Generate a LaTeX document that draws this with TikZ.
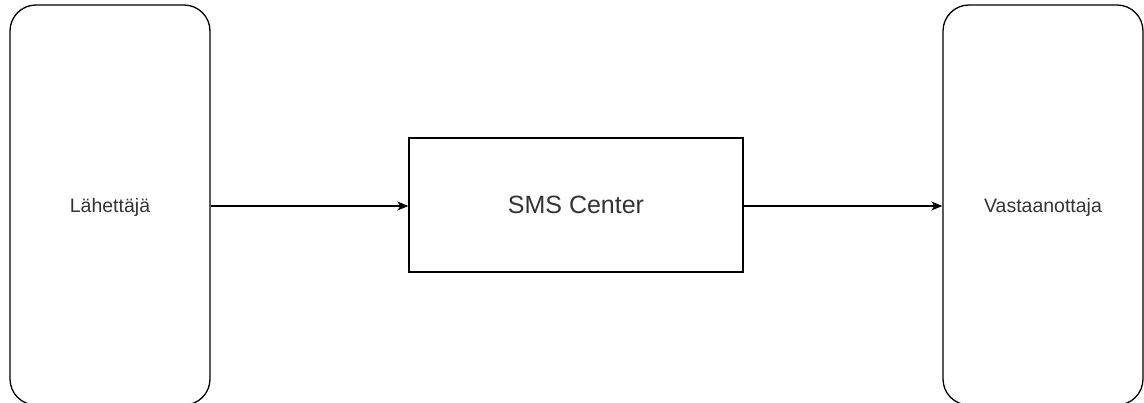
\documentclass[tikz,border=0pt]{standalone}
\usepackage{fontspec}
\setmainfont{Liberation Sans}
\usetikzlibrary{arrows.meta}
\definecolor{txt}{HTML}{333333}
\tikzset{
  side/.style={draw=black, line width=1.3pt, rounded corners=26pt, minimum width=200pt, minimum height=400pt, inner sep=0pt, text=txt, font=\fontsize{19.5}{23}\selectfont},
  center/.style={draw=black, line width=1.3pt, minimum width=334pt, minimum height=134pt, inner sep=0pt, text=txt, font=\fontsize{25}{30}\selectfont},
  conn/.style={line width=1.3pt, -{Stealth[length=11pt,width=9pt,inset=3pt]}}
}
\begin{document}
\begin{tikzpicture}[x=1pt,y=-1pt]
\useasboundingbox (0,0) rectangle (1144,402);
\clip (0,0) rectangle (1144,402);
\node[side] (snd) at (110,205) {};
\node[side] (rcv) at (1043,205) {};
\node[text=txt, font=\fontsize{19.5}{23}\selectfont] (sndt) at (110,207) {Lähettäjä};
\node[text=txt, font=\fontsize{19.5}{23}\selectfont] (rcvt) at (1043,207) {Vastaanottaja};
\node[center] (sms) at (576,205) {SMS Center};
\draw[conn] (snd.east |- 0,206) -- (sms.west |- 0,206);
\draw[conn] (sms.east |- 0,206) -- (rcv.west |- 0,206);
\end{tikzpicture}
\end{document}
